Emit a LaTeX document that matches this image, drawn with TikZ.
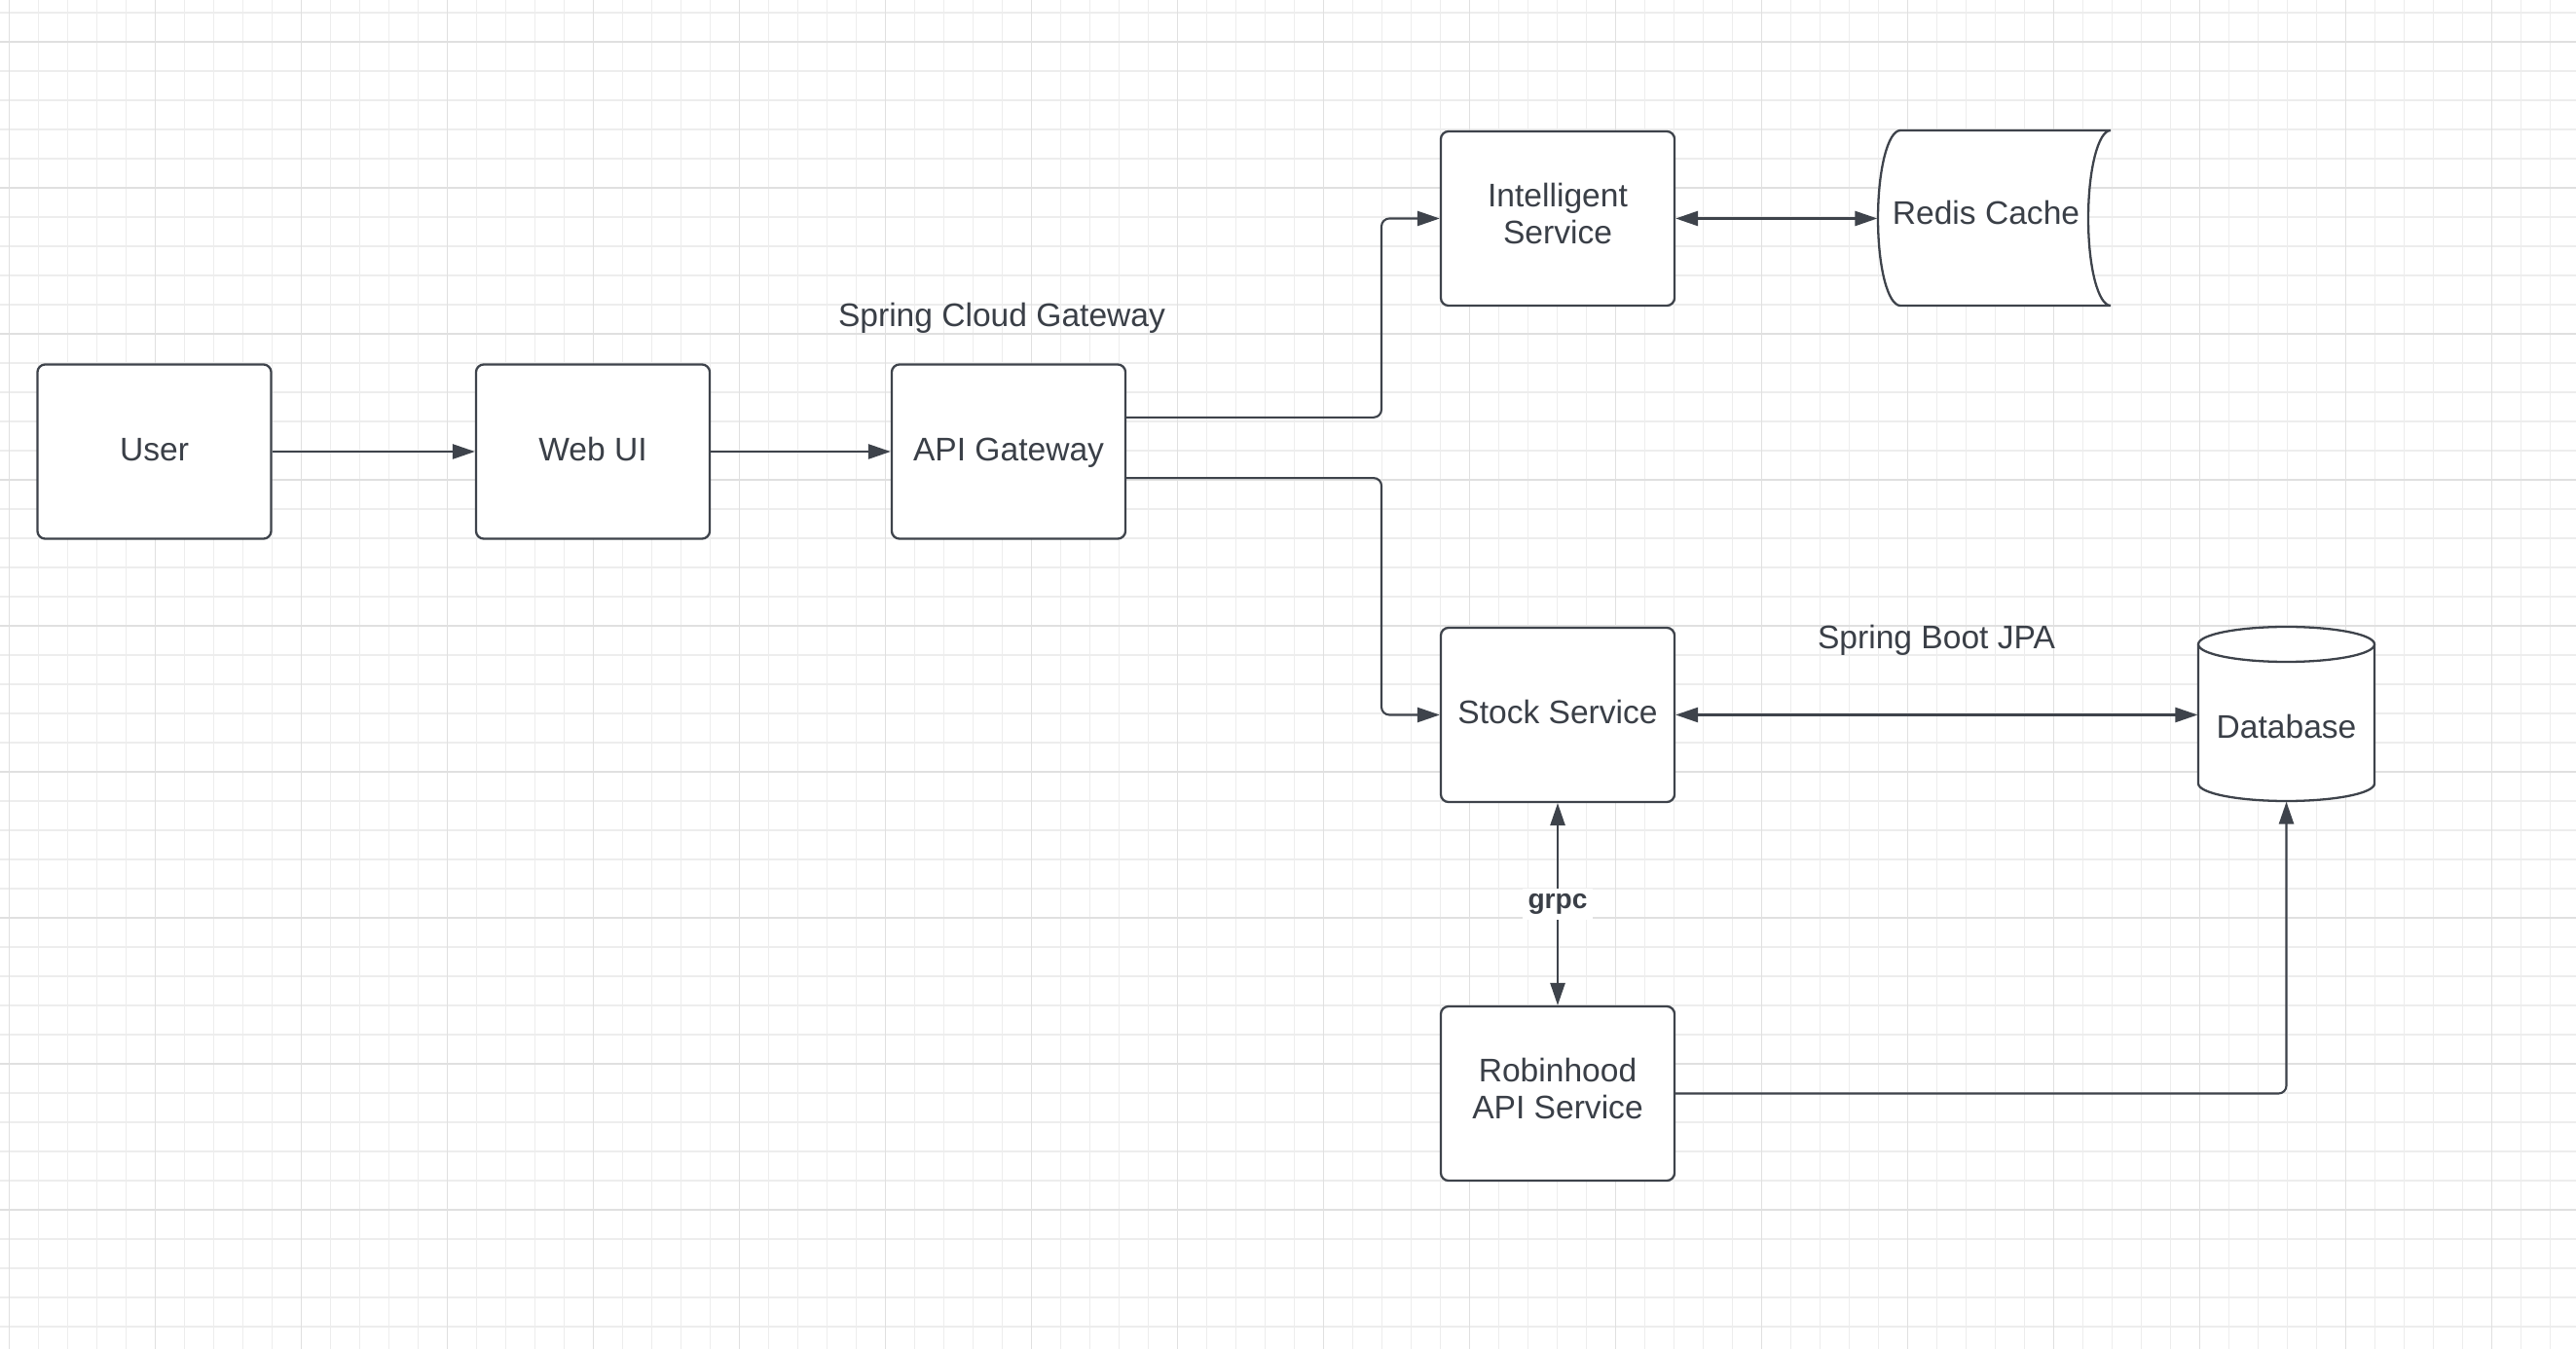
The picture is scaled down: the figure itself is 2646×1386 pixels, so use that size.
\documentclass[tikz,border=0pt]{standalone}
\usepackage{fontspec}
\setmainfont{Liberation Sans}
\usetikzlibrary{arrows.meta,calc}
\definecolor{linegray}{HTML}{3E434B}
\definecolor{textgray}{HTML}{3A3F47}
\definecolor{gridminor}{HTML}{EDEDED}
\definecolor{gridmajor}{HTML}{E0E0E0}
\newcommand{\lbl}{\fontsize{9.55}{11}\selectfont}

\begin{document}
\begin{tikzpicture}[x=0.01cm,y=-0.01cm]
\tikzstyle{box}=[rectangle, rounded corners=2.3pt, line width=0.65pt, draw=linegray, fill=white, text=textgray, minimum width=2.4cm, minimum height=1.79cm, align=center, font=\lbl, text height=0.75em, text depth=0.23em]
\tikzstyle{store}=[rectangle, inner sep=0pt, text=textgray, font=\lbl]
\tikzstyle{shapeline}=[line width=0.65pt, draw=linegray, fill=white]
\tikzstyle{connect}=[-{Triangle[length=6.5pt,width=4.3pt]}, line width=0.6pt, draw=linegray, rounded corners=2.3pt]
\tikzstyle{both}=[{Triangle[length=6.5pt,width=4.3pt]}-{Triangle[length=6.5pt,width=4.3pt]}, line width=0.6pt, draw=linegray]
\tikzstyle{caption}=[text=textgray, font=\lbl, align=center]
\useasboundingbox (0,0) rectangle (2646,1386);
\fill[white] (0,0) rectangle (2646,1386);
% grid
\foreach \i in {0,...,88} \draw[gridminor, line width=0.4pt] (9.5+30*\i,0) -- (9.5+30*\i,1386);
\foreach \i in {0,...,45} \draw[gridminor, line width=0.4pt] (0,13+30*\i) -- (2646,13+30*\i);
\foreach \i in {0,...,17} \draw[gridmajor, line width=0.4pt] (9.5+150*\i,0) -- (9.5+150*\i,1386);
\foreach \i in {0,...,8} \draw[gridmajor, line width=0.4pt] (0,43+150*\i) -- (2646,43+150*\i);

\node[box] (user) at (158.5,464) {User};
\node[box] (webui) at (609,464) {Web UI};
\node[box] (api) at (1036,464) {API Gateway};
\node[box] (intel) at (1600,224.5) [label={[caption, yshift=1.4pt]center:Intelligent\\Service}]{};
\node[box] (stock) at (1600,734.5) {Stock Service};
\node[box] (robin) at (1600,1123.5) [label={[caption, yshift=1.4pt]center:Robinhood\\API Service}]{};

% redis cache
\draw[shapeline] (1952,134) -- (2168,134) .. controls (2155.3,134) and (2145,174) .. (2145,224.5) .. controls (2145,275) and (2155.3,314) .. (2168,314) -- (1952,314) .. controls (1939.3,314) and (1929,275) .. (1929,224.5) .. controls (1929,174) and (1939.3,134) .. (1952,134) -- cycle;
\node[store, minimum width=2.22cm, minimum height=1.8cm] (redis) at (2040,224.5) [label={[caption, yshift=1.7pt]center:Redis Cache}]{};

% database
\draw[shapeline] (2258,662) -- (2258,805) .. controls (2258,815) and (2298.5,823) .. (2348.5,823) .. controls (2398.5,823) and (2439,815) .. (2439,805) -- (2439,662);
\draw[shapeline] (2258,662) .. controls (2258,652) and (2298.5,644) .. (2348.5,644) .. controls (2398.5,644) and (2439,652) .. (2439,662) .. controls (2439,672) and (2398.5,680) .. (2348.5,680) .. controls (2298.5,680) and (2258,672) .. (2258,662) -- cycle;
\node[store, minimum width=1.81cm, minimum height=1.79cm] (db) at (2348.5,733.5) [label={[caption, yshift=-3.8pt]center:Database}]{};

\node[caption] (gwlabel) at (1029,327) {Spring Cloud Gateway};
\node[caption] (jpalabel) at (1989,658) {Spring Boot JPA};
\coordinate (split) at (1419,0);

\path
	(user) edge[connect] (webui)
	(webui) edge[connect] (api)
	(intel.east) edge[both] (redis.west |- intel.east)
	(stock.east) edge[both] (db.west |- stock.east);
\draw[connect] ([yshift=10pt]api.east) -| (split |- intel.west) -- (intel.west);
\draw[connect] ([yshift=-7.7pt]api.east) -| (split |- stock.west) -- (stock.west);
\draw[connect] (robin.east) -| (db.south);
\draw[both] (stock.south) -- (robin.north) node[midway, fill=white, inner sep=1.5pt, text=textgray, font=\fontsize{8}{10}\selectfont\bfseries] (grpc) {grpc};

\end{tikzpicture}
\end{document}
